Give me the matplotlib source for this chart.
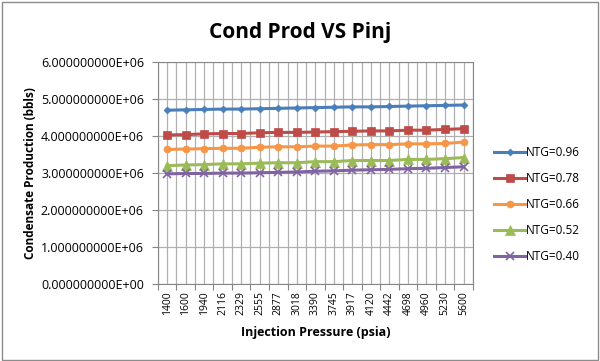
import matplotlib
matplotlib.use("Agg")
import matplotlib.pyplot as plt
import numpy as np
from matplotlib.ticker import FuncFormatter, FixedLocator

plt.rcParams['font.family'] = ['Open Sans', 'DejaVu Sans']

pressures = ["1400", "1600", "1940", "2116", "2329", "2555", "2877", "3018", "3390",
             "3745", "3917", "4120", "4442", "4698", "4960", "5230", "5600"]
ntg_096 = [4.70, 4.71, 4.72, 4.73, 4.73, 4.74, 4.75, 4.76, 4.77, 4.78, 4.79, 4.79, 4.80, 4.81, 4.82, 4.83, 4.84]
ntg_078 = [4.03, 4.04, 4.06, 4.07, 4.07, 4.09, 4.10, 4.10, 4.11, 4.12, 4.13, 4.14, 4.14, 4.16, 4.16, 4.18, 4.20]
ntg_066 = [3.64, 3.65, 3.66, 3.67, 3.67, 3.70, 3.71, 3.71, 3.73, 3.73, 3.76, 3.77, 3.77, 3.79, 3.79, 3.80, 3.84]
ntg_052 = [3.20, 3.22, 3.23, 3.25, 3.25, 3.27, 3.28, 3.28, 3.31, 3.31, 3.34, 3.34, 3.34, 3.37, 3.37, 3.39, 3.42]
ntg_040 = [2.98, 2.99, 2.99, 3.00, 3.00, 3.01, 3.02, 3.03, 3.05, 3.06, 3.08, 3.09, 3.10, 3.12, 3.13, 3.15, 3.17]
series_labels = ["NTG=0.96", "NTG=0.78", "NTG=0.66", "NTG=0.52", "NTG=0.40"]

fig = plt.figure(figsize=(6.0, 3.61), dpi=100)
fig.patch.set_facecolor('white')
fig.patches.append(plt.Rectangle((0.003, 0.004), 0.993, 0.99, transform=fig.transFigure,
                                 fill=False, edgecolor='#8c8c8c', linewidth=1.0))
ax = fig.add_axes([0.263, 0.213, 0.525, 0.615])

x = np.arange(len(pressures))
styles = [
    (ntg_096, '#4A7EBB', 'D', 3.5),
    (ntg_078, '#BE4B48', 's', 6),
    (ntg_066, '#F79646', 'o', 5),
    (ntg_052, '#9BBB59', '^', 7),
    (ntg_040, '#8064A2', 'x', 6),
]
for (vals, c, m, ms), lab in zip(styles, series_labels):
    ax.plot(x, np.array(vals) * 1e6, color=c, marker=m, markersize=ms, linewidth=2.2,
            label=lab, markeredgewidth=1.2 if m == 'x' else 0.5, zorder=3)

ax.set_xlim(-0.5, len(pressures) - 0.5)
ax.set_ylim(0, 6e6)
ax.set_yticks(np.arange(0, 6.01e6, 1e6))
ax.yaxis.set_major_formatter(FuncFormatter(lambda v, p: "{:.9E}".format(v)))

ax.xaxis.set_major_locator(FixedLocator(np.arange(-0.5, len(pressures), 1.0)))
ax.xaxis.set_minor_locator(FixedLocator(x))
ax.set_xticklabels([], minor=False)
ax.set_xticklabels(pressures, minor=True, rotation=90, fontsize=7.5)
ax.tick_params(axis='x', which='major', length=4, color='#868686')
ax.tick_params(axis='x', which='minor', length=0, pad=5)
ax.tick_params(axis='y', length=4, color='#868686', labelsize=9, pad=6)

ax.grid(True, which='both', axis='x', color='#b0b0b0', linewidth=0.9)
ax.grid(True, which='major', axis='y', color='#b0b0b0', linewidth=0.9)
ax.set_axisbelow(True)
for s in ax.spines.values():
    s.set_color('#868686')

ax.set_xlabel("Injection Pressure (psia)", fontsize=9, fontweight='bold', labelpad=8)
ax.set_ylabel("Condensate Production (bbls)", fontsize=8.5, fontweight='bold', labelpad=3)
fig.text(0.5, 0.91, "Cond Prod VS Pinj", ha='center', va='center', fontsize=15, fontweight='bold')

ax.legend(loc='center left', bbox_to_anchor=(1.035, 0.36), frameon=False, fontsize=8.5,
          handlelength=2.6, labelspacing=1.1, handletextpad=0.1)

fig.savefig("out.png", dpi=100)
